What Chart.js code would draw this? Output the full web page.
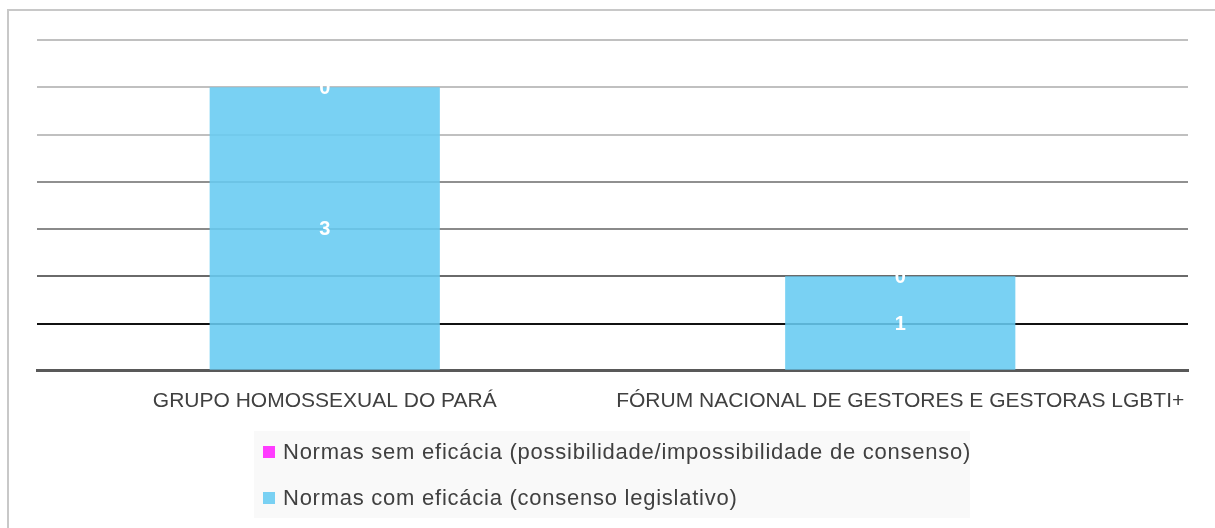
<!DOCTYPE html>
<html>
<head>
<meta charset="utf-8">
<title>Normas por organização</title>
<script src="https://cdn.jsdelivr.net/npm/chart.js@4.4.1/dist/chart.umd.min.js"></script>
<style>
  html, body { margin: 0; padding: 0; background: #fff; overflow: hidden; }
  #wrap { position: relative; width: 1215px; height: 528px; }
  #frame { position: absolute; left: 7px; top: 9px; width: 1300px; height: 700px;
           border-left: 2px solid #c8c8c8; border-top: 2px solid #c8c8c8; }
  #chart { position: absolute; left: 0; top: 0; }
  #legend { position: absolute; left: 254px; top: 431px; width: 716px; height: 87px;
            background: #f9f9f9; font-family: 'Liberation Sans', Arial, sans-serif;
            font-size: 22px; letter-spacing: 0.75px; color: #404040; }
  .item { position: absolute; left: 9px; height: 28px; display: flex; align-items: center; white-space: nowrap; }
  .sw { width: 10px; height: 10px; border: 1px solid; margin-right: 8px; }
</style>
</head>
<body>
<div id="wrap">
  <div id="frame"></div>
  <canvas id="chart" width="1215" height="528"></canvas>
  <div id="legend"></div>
</div>
<script>
// data
const categories = ['GRUPO HOMOSSEXUAL DO PARÁ', 'FÓRUM NACIONAL DE GESTORES E GESTORAS LGBTI+'];
const comEficacia = [3, 1];
const semEficacia = [0, 0];
const seriesNames = ['Normas com eficácia (consenso legislativo)',
                     'Normas sem eficácia (possibilidade/impossibilidade de consenso)'];
const yMax = 3.5;
const yStep = 0.5;

// gridline colour per value (lower lines are darker in the original)
const gridColors = { 0.5: '#111111', 1: '#6a6a6a', 1.5: '#8a8a8a', 2: '#909090',
                     2.5: '#c0c0c0', 3: '#c0c0c0', 3.5: '#c0c0c0' };

Chart.defaults.font.family = "'Liberation Sans', Arial, sans-serif";

// white value labels in the middle of each segment
const valueLabels = {
    id: 'valueLabels',
    afterDatasetsDraw(chart) {
        const ctx = chart.ctx;
        ctx.save();
        ctx.fillStyle = '#ffffff';
        ctx.font = "bold 20px 'Liberation Sans', Arial, sans-serif";
        ctx.textAlign = 'center';
        ctx.textBaseline = 'middle';
        chart.data.datasets.forEach((ds, i) => {
            chart.getDatasetMeta(i).data.forEach((bar, j) => {
                const p = bar.getProps(['x', 'y', 'base'], true);
                ctx.fillText(ds.data[j], p.x, (p.y + p.base) / 2 + 1);
            });
        });
        ctx.restore();
    }
};

const datasets = [
    { label: seriesNames[0], data: comEficacia, backgroundColor: 'rgba(102,203,241,0.88)',
      legendColor: '#79d1f3' },
    { label: seriesNames[1], data: semEficacia, backgroundColor: '#ff3cff',
      legendColor: '#ff3cff' }
];

const chart = new Chart(document.getElementById('chart'), {
    type: 'bar',
    data: { labels: categories, datasets: datasets },
    options: {
        responsive: false,
        animation: false,
        barPercentage: 0.4,
        categoryPercentage: 1,
        layout: { padding: { left: 37, right: 27, top: 40, bottom: 96 } },
        plugins: { legend: { display: false }, tooltip: { enabled: false } },
        scales: {
            x: {
                stacked: true,
                grid: { display: false, drawTicks: false },
                border: { display: true, color: '#595959', width: 3 },
                ticks: { color: '#404040', font: { size: 21 }, padding: 18, maxRotation: 0 }
            },
            y: {
                stacked: true,
                min: 0,
                max: yMax,
                border: { display: false },
                grid: {
                    drawTicks: false,
                    lineWidth: 2,
                    color: c => gridColors[c.tick.value] || 'rgba(0,0,0,0)'
                },
                ticks: { display: false, stepSize: yStep }
            }
        }
    },
    plugins: [valueLabels]
});

// legend, top series first like the original
const legend = document.getElementById('legend');
[datasets[1], datasets[0]].forEach((ds, i) => {
    const item = document.createElement('div');
    item.className = 'item';
    item.style.top = (7 + i * 46) + 'px';
    item.innerHTML = `<span class="sw" style="background:${ds.legendColor};border-color:${ds.legendColor}88"></span>${ds.label}`;
    legend.appendChild(item);
});
</script>
</body>
</html>
